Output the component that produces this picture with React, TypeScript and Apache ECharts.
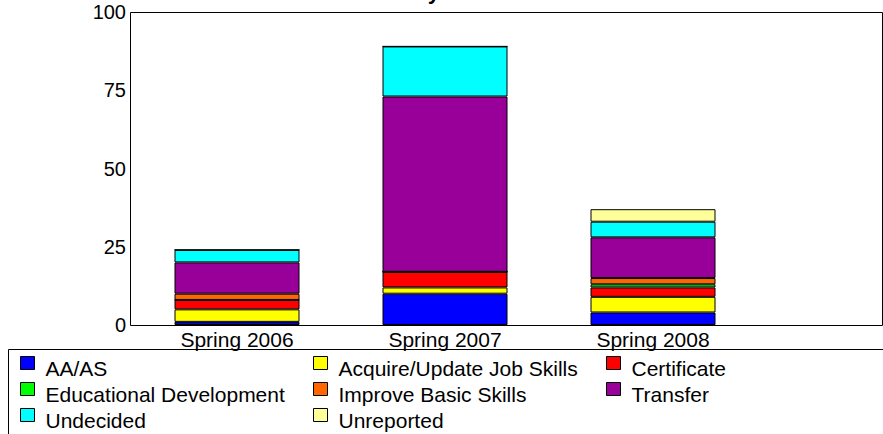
import React, { useEffect, useRef } from "react";
import * as echarts from "echarts";

const categories = ["Spring 2006", "Spring 2007", "Spring 2008"];

const seriesNames = [
  "AA/AS",
  "Acquire/Update Job Skills",
  "Certificate",
  "Educational Development",
  "Improve Basic Skills",
  "Transfer",
  "Undecided",
  "Unreported",
];
const aaAs = [1, 10, 4];
const acquireSkills = [4, 2, 5];
const certificate = [3, 5, 3];
const educationalDevelopment = [0, 0, 1];
const improveBasicSkills = [2, 0, 2];
const transfer = [10, 56, 13];
const undecided = [4, 16, 5];
const unreported = [0, 0, 4];
const seriesColors = ["#0000FF", "#FFFF00", "#FF0000", "#00FF00", "#FF6600", "#990099", "#00FFFF", "#FFFF99"];

const yMin = 0;
const yMax = 100;
const yInterval = 25;

const legendColumns = [
  ["AA/AS", "Educational Development", "Undecided"],
  ["Acquire/Update Job Skills", "Improve Basic Skills", "Unreported"],
  ["Certificate", "Transfer"],
];

const titleText = "Students by Goal";

const FONT = 'Arial, "Liberation Sans", sans-serif';

export default function App() {
  const ref = useRef<HTMLDivElement>(null);
  useEffect(() => {
    if (!ref.current) return;
    const chart = echarts.init(ref.current, null, { renderer: "svg" });
    const allValues = [aaAs, acquireSkills, certificate, educationalDevelopment, improveBasicSkills, transfer, undecided, unreported];
    const series = seriesNames.map((name, si) => ({
      name,
      type: "bar",
      stack: "total",
      barWidth: 125,
      data: allValues[si],
      itemStyle: { color: seriesColors[si], borderColor: "#000", borderWidth: 1 },
      emphasis: { disabled: true },
    }));
    const legendLefts = [20, 313, 606];
    chart.setOption({
      animation: false,
      grid: {
        left: 133,
        top: 12,
        width: 624,
        height: 313,
        show: false,
      },
      xAxis: {
        type: "category",
        data: categories,
        axisLine: { show: false },
        axisTick: { show: false },
        splitLine: { show: false },
        axisLabel: {
          color: "#000",
          fontSize: 21,
          fontFamily: FONT,
          margin: 4,
        },
      },
      yAxis: {
        type: "value",
        min: yMin,
        max: yMax,
        interval: yInterval,
        axisLine: { show: false },
        axisTick: { show: false },
        splitLine: { show: false },
        axisLabel: { color: "#000", fontSize: 20, fontFamily: FONT, margin: 7 },
      },
      legend: legendColumns.map((col, ci) => ({
        data: col,
        orient: "vertical",
        left: legendLefts[ci],
        top: 356,
        height: 140,
        width: 290,
        padding: 0,
        itemGap: 1,
        itemWidth: 14,
        itemHeight: 24,
        icon: "path://M0,0H14V13H0Z M14,24",
        selectedMode: false,
        itemStyle: { borderColor: "#000", borderWidth: 1 },
        textStyle: { color: "#000", fontSize: 21, lineHeight: 24, fontFamily: FONT, padding: [0, 0, 0, 6] },
      })),
      graphic: [
        {
          type: "rect",
          shape: { x: 130.5, y: 12.5, width: 752, height: 313 },
          style: { fill: "none", stroke: "#000", lineWidth: 1 },
          silent: true,
          z: 10,
        },
        {
          type: "rect",
          shape: { x: 8.5, y: 349.5, width: 1000, height: 200 },
          style: { fill: "none", stroke: "#000", lineWidth: 1 },
          silent: true,
        },
        {
          type: "text",
          x: 314,
          y: -9,
          style: {
            text: titleText,
            fontSize: 22,
            fontWeight: "bold",
            fontFamily: FONT,
            fill: "#000",
            align: "left",
            verticalAlign: "middle",
          },
          silent: true,
        },
      ],
      series,
    });
    return () => chart.dispose();
  }, []);
  return <div ref={ref} style={{ position: "absolute", left: 0, top: 0, width: 883, height: 434 }} />;
}
